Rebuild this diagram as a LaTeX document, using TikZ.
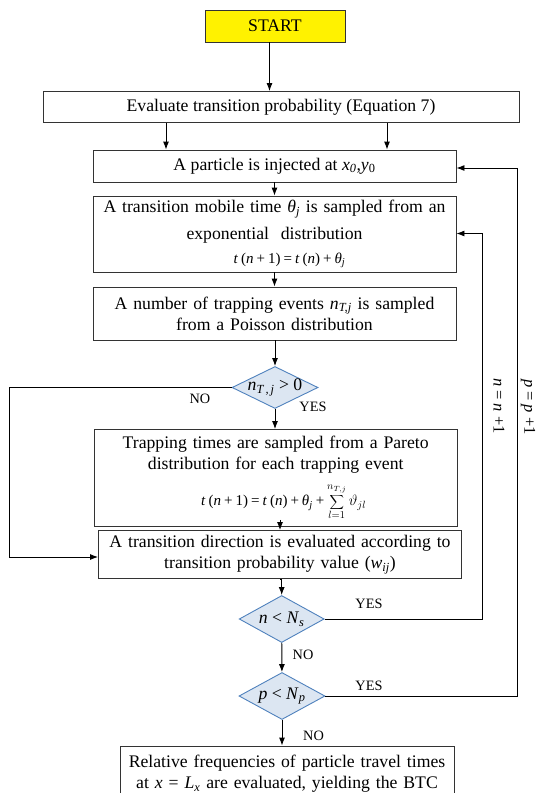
\RequirePackage{fix-cm}
\documentclass[tikz,border=0pt]{standalone}
\usepackage{fontspec}
\setmainfont{Liberation Serif}
\usetikzlibrary{arrows.meta,shapes.geometric,positioning}

\definecolor{checkfill}{HTML}{DCE6F2}
\definecolor{checkline}{HTML}{4F81BD}
\newcommand{\boxfont}{\fontsize{17.7}{21}\selectfont}
\newcommand{\eqfont}{\fontsize{15}{17}\selectfont}
\newcommand{\va}[1]{\textit{#1}}
\newcommand{\vsub}[2]{\textit{#1}\textsubscript{\textit{#2}}}
\newcommand{\eqgap}{\hspace{3pt}}

\begin{document}
\begin{tikzpicture}[x=1pt,y=-1pt,line width=0.9pt,>={Latex[length=8pt,width=6pt]},
	box/.style={draw=black!80,align=center,inner sep=0pt,font=\boxfont},
	check/.style={diamond,draw=checkline,fill=checkfill,inner sep=0pt,font=\boxfont},
	answer/.style={font=\fontsize{14.3}{16}\selectfont}]
			\useasboundingbox (0,0) rectangle (536,793);
			\clip (0,0) rectangle (536,793);
			\node[box,fill=yellow,minimum width=140,minimum height=32] (start) at (275,26) {START};
			\node[box,minimum width=476,minimum height=31] (evaluate) at (281,107) {Evaluate transition probability (Equation 7)};
			\node[box,minimum width=363,minimum height=32] (inject) at (274.5,166) {A particle is injected at \vsub{x}{0},\va{y}\textsubscript{0}};
			\node[box,minimum width=363,minimum height=76,text width=355] (mobile) at (274.5,234) {A transition mobile time \vsub{θ}{j} is sampled from an\\[6pt] exponential\ \ distribution\\[3pt] \hspace*{30pt}{\eqfont\va{t}\eqgap(\va{n}\eqgap+\eqgap1)\eqgap=\eqgap\va{t}\eqgap(\va{n})\eqgap+\eqgap\vsub{θ}{j}}};
			\node[box,minimum width=363,minimum height=53,text width=355] (number) at (274.5,313.5) {A number of trapping events \vsub{n}{T,j} is sampled\\ from a Poisson distribution};
			\node[check,minimum width=86,minimum height=42] (check1) at (275,387.5) {\makebox[0pt]{\vsub{n}{T\,,\,j} > 0}};
			\node[box,minimum width=363,minimum height=97,text width=355] (trapping) at (275.7,478) {Trapping times are sampled from a Pareto\\ distribution for each trapping event\\[10pt] \hspace*{16pt}{\eqfont\va{t}\eqgap(\va{n}\eqgap+\eqgap1)\eqgap=\eqgap\va{t}\eqgap(\va{n})\eqgap+\eqgap\vsub{θ}{j}\eqgap+\eqgap$\displaystyle\sum_{l=1}^{n_{T,j}}\vartheta_{jl}$}};
			\node[box,minimum width=363,minimum height=48,text width=355] (direction) at (280,554.5) {A transition direction is evaluated according to\\ transition probability value (\vsub{w}{ij})};
			\node[check,minimum width=85,minimum height=47] (check2) at (281.7,619) {\makebox[0pt]{\va{n} < \vsub{N}{s}}};
			\node[check,minimum width=86,minimum height=47] (check3) at (282,696) {\makebox[0pt]{\va{p} < \vsub{N}{p}}};
			\node[box,minimum width=334,minimum height=56,text width=330] (final) at (287,774) {Relative frequencies of particle travel times\\ at \va{x} = \vsub{L}{x} are evaluated, yielding the BTC};

			\coordinate (noleft) at (9,557);
			\coordinate (nloop) at (482,233.5);
			\coordinate (ploop) at (517,168);

			\draw[->] ([xshift=-5.5pt]start.south) -- ([xshift=-5.5pt]start.south |- evaluate.north);
			\draw[->] ([xshift=-115pt]evaluate.south) -- ([xshift=-115pt]evaluate.south |- inject.north);
			\draw[->] ([xshift=106pt]evaluate.south) -- ([xshift=106pt]evaluate.south |- inject.north);
			\draw[->] (inject) -- (mobile);
			\draw[->] (mobile) -- (number);
			\draw[->] (number.south) -- (number.south -| check1) -- (check1.north);
			\draw[->] (check1.south) -- (check1.south |- trapping.north);
			\draw[->] (check1.west) -| (noleft) -- (noleft -| direction.west);
			\draw[->] ([yshift=7pt]direction.north |- trapping.south) -- (direction.north);
			\draw[->] (direction.south) -- (direction.south -| check2) -- (check2.north);
			\draw[->] (check2) -- (check3);
			\draw[->] (check3.south) -- (check3.south |- final.north);
			\draw[->] (check2.east) -| (nloop) -- (nloop -| mobile.east);
			\draw[->] (check3.east) -| (ploop) -- (ploop -| inject.east);

			\node[answer] (no1) at (200,399) {NO};
			\node[answer] (yes1) at (313,407) {YES};
			\node[answer] (yes2) at (369,604) {YES};
			\node[answer] (no2) at (303,655) {NO};
			\node[answer] (yes3) at (369,686) {YES};
			\node[answer] (no3) at (313.5,736) {NO};
			\node[answer,font=\fontsize{16.5}{18}\selectfont,rotate=-90] (ninc) at (499,406) {\va{n} = \va{n} +1};
			\node[answer,font=\fontsize{16.5}{18}\selectfont,rotate=-90] (pinc) at (528,407) {\va{p} = \va{p} +1};
			\end{tikzpicture}
\end{document}
